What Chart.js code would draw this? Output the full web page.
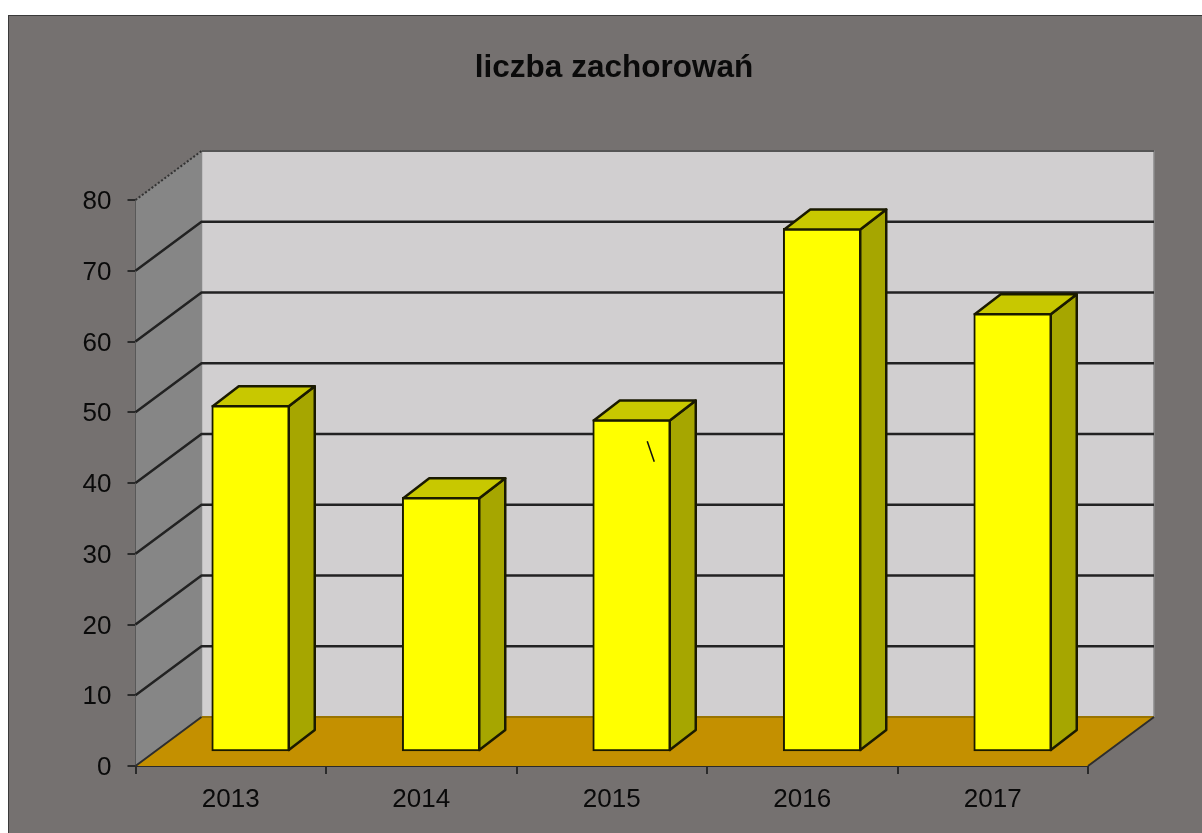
<!DOCTYPE html>
<html>
<head>
<meta charset="utf-8">
<title>liczba zachorowań</title>
<style>
  html, body { margin: 0; padding: 0; background: #fff; overflow: hidden; }
  #panel { position: absolute; left: 8px; top: 15px; width: 1194px; height: 818px; background: #757170; border-left: 1px solid #3a3a3a; border-top: 1px solid #3a3a3a; box-sizing: border-box; }
  #myChart { position: absolute; left: 0; top: 0; }
</style>
<script src="https://cdn.jsdelivr.net/npm/chart.js@4/dist/chart.umd.min.js"></script>
</head>
<body>
<div id="panel"></div>
<canvas id="myChart" width="1202" height="833"></canvas>
<script>
'use strict';

var categories = ['2013', '2014', '2015', '2016', '2017'];
var cases = [49, 36, 47, 74, 62];
var titleText = 'liczba zachorowań';

// depth of the fake 3d box and of the bars inside it
var wallDx = 66, wallDy = 49;
var barShiftX = 20, barShiftY = 14;
var barDx = 26, barDy = 20;

function poly(ctx, pts, fill, stroke, width) {
  ctx.beginPath();
  ctx.moveTo(pts[0][0], pts[0][1]);
  for (var i = 1; i < pts.length; i++) {
    ctx.lineTo(pts[i][0], pts[i][1]);
  }
  ctx.closePath();
  if (fill) {
    ctx.fillStyle = fill;
    ctx.fill();
  }
  if (stroke) {
    ctx.strokeStyle = stroke;
    ctx.lineWidth = width;
    ctx.lineJoin = 'round';
    ctx.stroke();
  }
}

var box3d = {
  id: 'box3d',
  afterLayout: function (chart) {
    // title sits a little right of the canvas centre
    var t = chart.titleBlock;
    var shift = 614 - (t.left + t.right) / 2;
    t.left += shift;
    t.right += shift;
  },
  beforeDatasetsDraw: function (chart) {
    var ctx = chart.ctx;
    var a = chart.chartArea;
    var y = chart.scales.y;
    var zero = y.getPixelForValue(0);
    var top = y.getPixelForValue(80);
    var bl = a.left + wallDx;
    var br = a.right + wallDx;

    ctx.save();
    // back wall
    poly(ctx, [[bl, top - wallDy], [br, top - wallDy], [br, zero - wallDy], [bl, zero - wallDy]], '#d1cfd0', '#8a8a8a', 1.5);
    // side wall
    poly(ctx, [[a.left, top], [bl, top - wallDy], [bl, zero - wallDy], [a.left, zero]], '#868686', null, 0);
    // floor
    poly(ctx, [[a.left, zero], [bl, zero - wallDy], [br, zero - wallDy], [a.right, zero]], '#c49000', null, 0);

    // grid lines go along the side wall and then across the back
    ctx.lineWidth = 2.5;
    for (var v = 10; v <= 70; v += 10) {
      var py = y.getPixelForValue(v);
      ctx.strokeStyle = '#222';
      ctx.beginPath();
      ctx.moveTo(a.left, py);
      ctx.lineTo(bl, py - wallDy);
      ctx.lineTo(br, py - wallDy);
      ctx.stroke();
    }

    // top edge
    ctx.lineWidth = 2;
    ctx.strokeStyle = '#555';
    ctx.beginPath();
    ctx.moveTo(bl, top - wallDy);
    ctx.lineTo(br, top - wallDy);
    ctx.stroke();
    ctx.setLineDash([2, 2]);
    ctx.strokeStyle = '#333';
    ctx.beginPath();
    ctx.moveTo(a.left, top);
    ctx.lineTo(bl, top - wallDy);
    ctx.stroke();
    ctx.setLineDash([]);

    // floor edges
    ctx.strokeStyle = '#9a7400';
    ctx.beginPath();
    ctx.moveTo(bl, zero - wallDy);
    ctx.lineTo(br, zero - wallDy);
    ctx.stroke();
    ctx.strokeStyle = '#2e2e2e';
    ctx.beginPath();
    ctx.moveTo(a.left, zero);
    ctx.lineTo(bl, zero - wallDy);
    ctx.moveTo(a.right, zero);
    ctx.lineTo(br, zero - wallDy);
    ctx.stroke();
    ctx.restore();
  },
  beforeDatasetDraw: function (chart) {
    chart.ctx.save();
    chart.ctx.translate(barShiftX, -barShiftY);
  },
  afterDatasetDraw: function (chart, args) {
    var ctx = chart.ctx;
    ctx.restore();
    ctx.save();
    args.meta.data.forEach(function (bar) {
      var half = bar.width / 2 - 1;
      var l = bar.x - half + barShiftX;
      var r = bar.x + half + barShiftX;
      var t = bar.y + 1 - barShiftY;
      var b = bar.base - 1 - barShiftY;
      // right side and top of the bar
      poly(ctx, [[r, t], [r + barDx, t - barDy], [r + barDx, b - barDy], [r, b]], '#a6a600', '#1a1a00', 2.5);
      poly(ctx, [[l, t], [l + barDx, t - barDy], [r + barDx, t - barDy], [r, t]], '#c8c800', '#1a1a00', 2.5);
    });

    // the small stray stroke on the 2015 bar
    var x = chart.scales.x.getPixelForValue(2) + barShiftX;
    var y = chart.scales.y;
    ctx.strokeStyle = '#111';
    ctx.lineWidth = 1.5;
    ctx.beginPath();
    ctx.moveTo(x + 15.5, y.getPixelForValue(45.9));
    ctx.lineTo(x + 22.5, y.getPixelForValue(43));
    ctx.stroke();
    ctx.restore();
  }
};

var ctx = document.getElementById('myChart').getContext('2d');

var myChart = new Chart(ctx, {
  type: 'bar',
  plugins: [box3d],
  data: {
    labels: categories,
    datasets: [{
      label: titleText,
      data: cases,
      backgroundColor: '#ffff00',
      borderColor: '#1a1a00',
      borderWidth: 2,
      borderSkipped: false,
      barThickness: 78,
      clip: false
    }]
  },
  options: {
    responsive: false,
    animation: false,
    layout: { padding: { left: 26, right: 114, top: 0, bottom: 0 } },
    plugins: {
      legend: { display: false },
      tooltip: { enabled: false },
      title: {
        display: true,
        text: titleText,
        color: '#0a0a0a',
        font: { family: '"Liberation Sans"', size: 31.5, weight: 'bold', lineHeight: 1.2 },
        padding: { top: 49, bottom: 113.2 }
      }
    },
    scales: {
      x: {
        afterFit: function (scale) { scale.height = 67; },
        grid: { drawOnChartArea: false, color: '#2a2a2a', lineWidth: 2, tickLength: 8 },
        border: { color: '#2a2a2a', width: 2 },
        ticks: { color: '#0a0a0a', padding: 10, maxRotation: 0, font: { family: '"Liberation Sans"', size: 26 } }
      },
      y: {
        min: 0,
        max: 80,
        afterFit: function (scale) { scale.width = 109.5; },
        grid: { drawOnChartArea: false, color: '#2a2a2a', lineWidth: 2, tickLength: 8 },
        border: { color: '#2a2a2a', width: 2 },
        ticks: { stepSize: 10, color: '#0a0a0a', padding: 16, labelOffset: 2, font: { family: '"Liberation Sans"', size: 26 } }
      }
    }
  }
});
</script>
</body>
</html>
